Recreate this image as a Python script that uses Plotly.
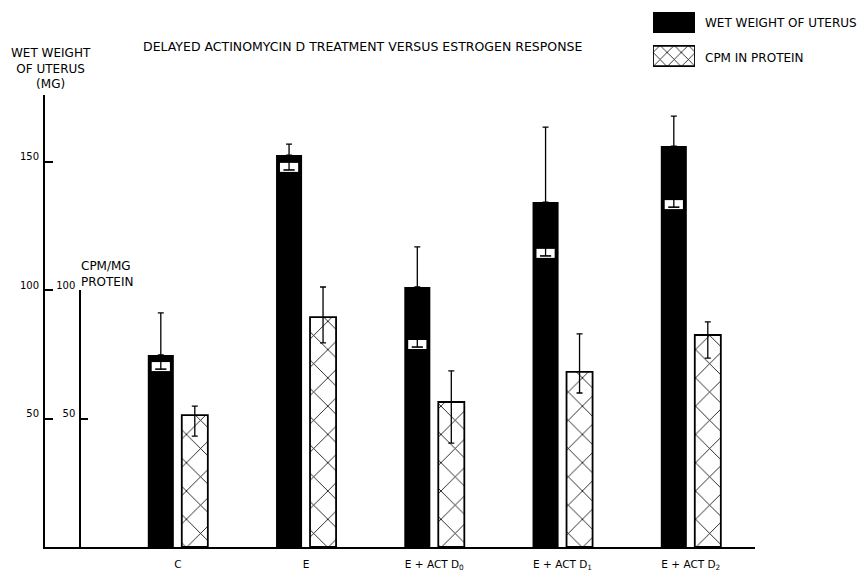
import plotly.graph_objects as go

# ---------------- data ----------------
categories = ["C", "E", "E + ACT D<sub>0</sub>", "E + ACT D<sub>1</sub>", "E + ACT D<sub>2</sub>"]
wet_weight = [74.8, 152.7, 101.3, 134.4, 156.2]          # mg
wet_err_up = [16.4, 4.3, 15.6, 29.2, 11.7]
wet_err_down = [5.5, 5.8, 23.4, 21.0, 23.8]
cpm = [51.4, 89.6, 56.5, 68.2, 82.6]                     # CPM/MG protein
cpm_err_up = [3.5, 11.7, 12.1, 14.8, 5.1]
cpm_err_down = [8.2, 10.1, 16.0, 8.2, 9.0]
wet_ticks = [50, 100, 150]
cpm_ticks = [50, 100]

title_text = "DELAYED ACTINOMYCIN D TREATMENT VERSUS ESTROGEN RESPONSE"
legend_labels = ["WET WEIGHT OF UTERUS", "CPM IN PROTEIN"]

# ---------------- layout constants ----------------
FONT = "DejaVu Sans"
idx = list(range(len(categories)))
BAR_W = 0.203
OFF_BLACK = -0.234
OFF_HATCH = 0.031
xc_black = [i + OFF_BLACK + BAR_W / 2 for i in idx]
YMAX = 176.1
Y_DOMAIN_TOP = 0.8417

# page body has an 8px margin -> figure is shifted by 8px
PW, PH = 710, 537          # plot area size in px
PL, PT = 45, 10            # plot area left/top in page px


def px(xp):
    return (xp - PL) / PW


def py(yp):
    return (PT + PH - yp) / PH


fig = go.Figure()

# wet weight bars (black)
fig.add_trace(go.Bar(
    x=idx, y=wet_weight, width=BAR_W, offset=OFF_BLACK,
    marker=dict(color="black", line=dict(width=0)),
    error_y=dict(type="data", symmetric=False, array=wet_err_up,
                 arrayminus=[0] * len(idx), color="black", thickness=1.3, width=3),
    showlegend=False, name=legend_labels[0],
))

# CPM bars (cross-hatched)
fig.add_trace(go.Bar(
    x=idx, y=cpm, width=BAR_W, offset=OFF_HATCH,
    marker=dict(color="white", line=dict(color="black", width=1.8),
                pattern=dict(shape="x", fgcolor="black", bgcolor="white", fgopacity=1,
                             size=20, solidity=0.08, fillmode="overlay")),
    error_y=dict(type="data", symmetric=False, array=cpm_err_up,
                 arrayminus=cpm_err_down, color="black", thickness=1.3, width=3),
    showlegend=False, name=legend_labels[1],
))

# white window showing lower error limit inside black bars
low_ends = [v - d for v, d in zip(wet_weight, wet_err_down)]
fig.add_trace(go.Scatter(
    x=xc_black, y=[l + 1.0 for l in low_ends], mode="markers",
    marker=dict(symbol="line-ew", size=13, line=dict(color="white", width=9)),
    showlegend=False, hoverinfo="skip",
))
fig.add_trace(go.Scatter(
    x=xc_black, y=low_ends, mode="markers",
    marker=dict(symbol="line-ew", size=8, line=dict(color="black", width=1.6)),
    error_y=dict(type="data", symmetric=False, array=wet_err_down,
                 arrayminus=[0] * len(idx), color="black", thickness=1.3, width=0),
    showlegend=False, hoverinfo="skip",
))

# dummy trace so the CPM axis is rendered
fig.add_trace(go.Scatter(x=[0], y=[0], yaxis="y2", mode="markers",
                         marker=dict(opacity=0), showlegend=False, hoverinfo="skip"))

# legend swatches on a tiny axis pair
fig.add_trace(go.Bar(
    x=[1], y=[1], orientation="h", width=0.62, xaxis="x3", yaxis="y3",
    marker=dict(color="black", line=dict(width=0)), showlegend=False, hoverinfo="skip"))
fig.add_trace(go.Bar(
    x=[1], y=[0], orientation="h", width=0.60, xaxis="x3", yaxis="y3",
    marker=dict(color="white", line=dict(color="black", width=1.8),
                pattern=dict(shape="x", fgcolor="black", bgcolor="white", fgopacity=1,
                             size=10, solidity=0.15, fillmode="overlay")),
    showlegend=False, hoverinfo="skip"))

axis_font = dict(family=FONT, size=10, color="black")

fig.update_layout(
    width=857, height=567,
    margin=dict(l=PL - 8, r=857 - (PL - 8) - PW, t=PT - 8, b=567 - (PT - 8) - PH,
                autoexpand=False),
    paper_bgcolor="white", plot_bgcolor="rgba(0,0,0,0)",
    font=dict(family=FONT, color="black"),
    barmode="overlay",
    xaxis=dict(
        range=[-1.0355, 4.5005], tickmode="array", tickvals=idx, ticktext=categories,
        showline=True, linecolor="black", linewidth=2, ticks="",
        showgrid=False, zeroline=False, tickfont=dict(family=FONT, size=10.5),
        ticklabelstandoff=6, anchor="y", automargin=False,
    ),
    yaxis=dict(
        range=[0, YMAX], domain=[0, Y_DOMAIN_TOP], tickmode="array", tickvals=wet_ticks,
        showline=True, linecolor="black", linewidth=2, ticks="inside", ticklen=8,
        tickwidth=1.5, tickcolor="black", showgrid=False, zeroline=False,
        tickfont=axis_font, ticklabelshift=-5, ticklabelstandoff=2, automargin=False,
    ),
    yaxis2=dict(
        range=[0, 100], domain=[0, Y_DOMAIN_TOP * 100 / YMAX], anchor="free",
        position=px(80), side="left", tickmode="array", tickvals=cpm_ticks,
        showline=True, linecolor="black", linewidth=1.5, ticks="inside", ticklen=7,
        tickwidth=1.5, tickcolor="black", showgrid=False, zeroline=False,
        tickfont=axis_font, ticklabelshift=-5, ticklabelstandoff=2, automargin=False,
    ),
    xaxis3=dict(domain=[px(653), px(695)], range=[0, 1], anchor="y3",
                visible=False, fixedrange=True, automargin=False),
    yaxis3=dict(domain=[py(68), py(10)], range=[-0.358, 1.373],
                anchor="x3", visible=False, fixedrange=True, automargin=False),
)

ann = []
ann.append(dict(text=title_text, xref="paper", yref="paper",
                x=px(362), y=py(47), showarrow=False,
                xanchor="center", yanchor="middle",
                font=dict(family=FONT, size=12.5, color="black")))
ann.append(dict(text="WET WEIGHT<br>OF UTERUS<br>(MG)", xref="paper", yref="paper",
                x=px(51), y=py(68), showarrow=False,
                xanchor="center", yanchor="middle", align="center",
                font=dict(family=FONT, size=12, color="black")))
ann.append(dict(text="CPM/MG<br>PROTEIN", xref="paper", yref="paper",
                x=px(79), y=py(274), showarrow=False,
                xanchor="left", yanchor="middle", align="left",
                font=dict(family=FONT, size=12, color="black")))
ann.append(dict(text=legend_labels[0], xref="paper", yref="paper",
                x=px(703), y=py(23), showarrow=False,
                xanchor="left", yanchor="middle",
                font=dict(family=FONT, size=12, color="black")))
ann.append(dict(text=legend_labels[1], xref="paper", yref="paper",
                x=px(703), y=py(58), showarrow=False,
                xanchor="left", yanchor="middle",
                font=dict(family=FONT, size=12, color="black")))
fig.update_layout(annotations=ann)

fig.write_html("out.html")
